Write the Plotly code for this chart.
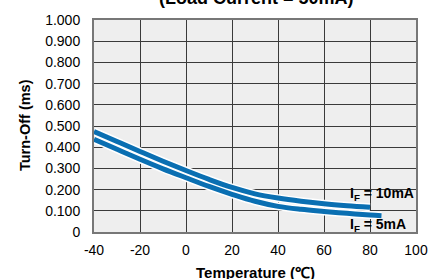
import plotly.graph_objects as go

temps_10 = [-40, -30, -20, -10, 0, 10, 20, 30, 40, 50, 60, 70, 80]
toff_10 = [0.474, 0.427, 0.380, 0.334, 0.290, 0.248, 0.210, 0.180, 0.160, 0.145, 0.133, 0.124, 0.117]
temps_5 = [-40, -30, -20, -10, 0, 10, 20, 30, 40, 50, 60, 70, 80, 85]
toff_5 = [0.437, 0.390, 0.343, 0.298, 0.256, 0.215, 0.178, 0.145, 0.121, 0.107, 0.097, 0.088, 0.080, 0.077]

x_ticks = [-40, -20, 0, 20, 40, 60, 80, 100]
x_ticktext = ["-40", "-20", "0", "20", "40", "60", "80", "100"]
y_ticks = [0, 0.1, 0.2, 0.3, 0.4, 0.5, 0.6, 0.7, 0.8, 0.9, 1.0]
y_ticktext = ["0", "0.100", "0.200", "0.300", "0.400", "0.500", "0.600", "0.700", "0.800", "0.900", "1.000"]

FONT = "Liberation Sans, Arial, Helvetica, sans-serif"
BLUE = "#0a6fb2"

fig = go.Figure()
for xs, ys in [(temps_10, toff_10), (temps_5, toff_5)]:
    fig.add_trace(go.Scatter(x=xs, y=ys, mode="lines", line=dict(color="white", width=8, shape="spline"),
                             hoverinfo="skip", showlegend=False))
for xs, ys in [(temps_10, toff_10), (temps_5, toff_5)]:
    fig.add_trace(go.Scatter(x=xs, y=ys, mode="lines", line=dict(color=BLUE, width=5, shape="spline"),
                             showlegend=False))

fig.update_layout(
    width=443, height=279,
    margin=dict(l=94, r=27, t=16, b=47),
    paper_bgcolor="white", plot_bgcolor="#eeeeee",
    font=dict(family=FONT, size=14, color="black"),
    xaxis=dict(range=[-40, 100], tickvals=x_ticks, ticktext=x_ticktext, showgrid=True, gridcolor="#3a3a3a",
               gridwidth=1, showline=True, linecolor="#777777", linewidth=2, mirror=True, zeroline=False,
               ticks="", ticklabelstandoff=4, tickfont=dict(size=14)),
    yaxis=dict(range=[0, 1], tickvals=y_ticks, ticktext=y_ticktext, showgrid=True, gridcolor="#3a3a3a",
               gridwidth=1, showline=True, linecolor="#777777", linewidth=2, mirror=True, zeroline=False,
               ticks="", ticklabelstandoff=9, tickfont=dict(size=14)),
    annotations=[
        dict(text="<b>(Load Current = 50mA)</b>", xref="paper", yref="paper", x=0.506, y=1,
             xanchor="center", yanchor="bottom", yshift=10, showarrow=False, font=dict(size=18)),
        dict(text="<b>Temperature (℃)</b>", xref="paper", yref="paper", x=0.5, y=-0.19,
             xanchor="center", yanchor="middle", showarrow=False, font=dict(size=15)),
        dict(text="<b>Turn-Off (ms)</b>", xref="paper", yref="paper", x=-0.214, y=0.505, textangle=-90,
             xanchor="center", yanchor="middle", showarrow=False, font=dict(size=14.5)),
        dict(text="<b>I<sub>F</sub> = 10mA</b>", xref="x", yref="y", x=70.3, y=0.18,
             xanchor="left", yanchor="middle", showarrow=False, font=dict(size=14)),
        dict(text="<b>I<sub>F</sub> = 5mA</b>", xref="x", yref="y", x=70.3, y=0.032,
             xanchor="left", yanchor="middle", showarrow=False, font=dict(size=14)),
    ],
)
fig.write_html("out.html", config={"displayModeBar": False},
               post_script="document.body.style.margin='0';document.body.style.overflow='hidden';")
